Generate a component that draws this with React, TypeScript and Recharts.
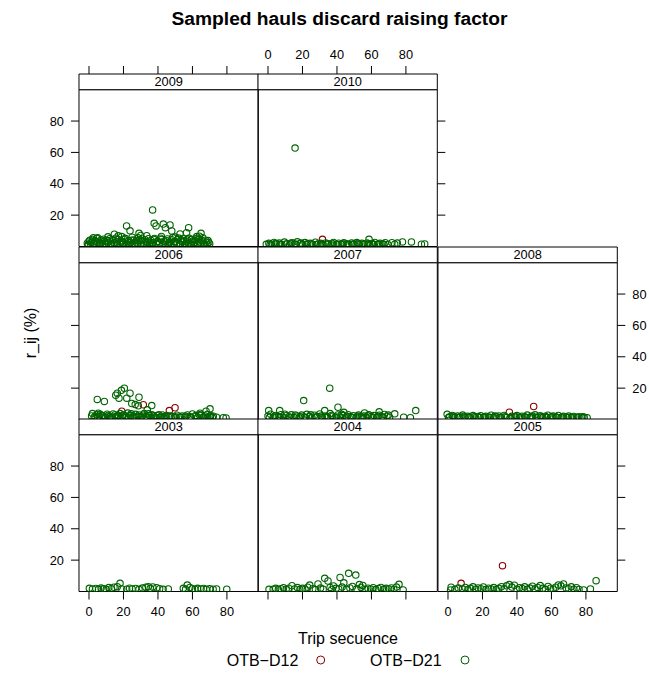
import React from 'react';
import { ScatterChart, Scatter, XAxis, YAxis, ReferenceArea } from 'recharts';

type Pt = [number, number];

// Trip sequence (x) and r_ij % (y), per year and metier
const d12_2009: Pt[] = [[-0.5, 0.9]];
const d21_2009: Pt[] = [
  [36.9, 23.3], [37.8, 14.8], [38.9, 13.1], [43.1, 14.3], [44.3, 12], [47, 13.7], [48, 9.9],
  [57.8, 12], [56.6, 8.8], [65, 8.4], [21.8, 13.1], [23.8, 10], [14.7, 7.8], [29, 8.4],
  [33.5, 6.9], [2.5, 5.6], [19, 6.3], [52.8, 8], [62.5, 6.3],
  [5, 5.5], [11, 6.2], [17, 6.8], [25, 5.9], [30, 7.0], [42, 6.4], [50, 6.0], [58, 5.3], [64, 6.6],
  [-1, 2.1], [0, 3.4], [1, 1.5], [2, 4.6], [3, 2.2], [4, 1.1], [5, 3.0], [6, 2.4], [7, 4.1], [8, 1.8],
  [9, 3.3], [10, 1.2], [11, 2.7], [12, 5.0], [13, 2.0], [14, 3.6], [15, 1.4], [16, 2.9], [17, 4.4],
  [18, 1.9], [19, 3.1], [20, 2.3], [21, 5.2], [22, 1.6], [23, 3.8], [24, 2.5], [25, 1.3], [26, 4.2],
  [27, 2.8], [28, 1.7], [29, 3.5], [30, 2.1], [31, 4.8], [32, 1.5], [33, 3.0], [34, 2.6], [35, 1.2],
  [36, 3.9], [37, 2.4], [38, 5.1], [39, 1.8], [40, 3.3], [41, 2.2], [42, 4.5], [43, 1.4], [44, 2.9],
  [45, 3.7], [46, 1.6], [47, 2.5], [48, 4.3], [49, 1.9], [50, 3.2], [51, 2.0], [52, 5.4], [53, 1.3],
  [54, 2.8], [55, 3.6], [56, 1.7], [57, 4.1], [58, 2.3], [59, 1.5], [60, 3.4], [61, 2.6], [62, 4.9],
  [63, 1.8], [64, 3.0], [65, 2.2], [66, 5.6], [67, 1.4], [68, 2.7], [69, 3.8], [70, 1.6],
  [-0.5, 1.2], [0.5, 4.0], [1.5, 2.8], [2.5, 1.9], [3.5, 3.6], [4.5, 5.1], [6.5, 1.4], [7.5, 2.9],
  [8.5, 4.7], [9.5, 2.0], [10.5, 3.8], [12.5, 1.6], [13.5, 4.4], [14.5, 2.4], [15.5, 5.3], [16.5, 1.2],
  [18.5, 3.7], [19.5, 1.5], [20.5, 4.5], [22.5, 2.9], [23.5, 1.2], [24.5, 4.0], [26.5, 1.8], [27.5, 3.9],
  [28.5, 5.5], [30.5, 3.6], [31.5, 1.3], [32.5, 4.3], [33.5, 1.9], [34.5, 5.0], [35.5, 2.7], [36.5, 1.4],
  [37.5, 4.6], [39.5, 3.0], [40.5, 1.5], [41.5, 5.3], [43.5, 3.4], [44.5, 1.2], [45.5, 4.8], [46.5, 2.9],
  [47.5, 1.4], [48.5, 5.7], [49.5, 3.0], [51.5, 4.4], [52.5, 1.6], [53.5, 3.5], [54.5, 5.0], [55.5, 1.3],
  [56.5, 3.0], [57.5, 1.8], [59.5, 4.6], [60.5, 1.3], [61.5, 3.8], [63.5, 4.4], [64.5, 1.5], [65.5, 3.5],
  [66.5, 2.1], [67.5, 4.0], [68.5, 1.3], [69.5, 2.6],
];

const d12_2010: Pt[] = [[31.6, 4.6]];
const d21_2010: Pt[] = [
  [15.7, 62.8], [58.6, 4.6], [71.9, 2.4], [78, 2.9], [83.2, 2.9], [75, 2.2], [90.9, 1.6], [89, 1.5],
  [-1, 1.4], [0.5, 2.0], [2, 1.2], [3.5, 2.6], [5, 1.7], [6.5, 2.2], [8, 1.3], [9.5, 2.8], [11, 1.8],
  [12.5, 1.1], [14, 2.4], [15.5, 1.6], [17, 3.0], [18.5, 1.9], [20, 1.2], [21.5, 2.5], [23, 1.7],
  [24.5, 2.1], [26, 1.3], [27.5, 2.7], [29, 1.6], [30.5, 2.0], [32, 1.2], [33.5, 2.3], [35, 1.8],
  [36.5, 1.1], [38, 2.6], [39.5, 1.5], [41, 2.1], [42.5, 1.3], [44, 2.4], [45.5, 1.7], [47, 1.2],
  [48.5, 2.2], [50, 1.6], [51.5, 2.5], [53, 1.3], [54.5, 2.0], [56, 1.5], [57.5, 2.3], [59, 1.2],
  [60.5, 1.9], [62, 2.6], [63.5, 1.4], [65, 2.1], [66.5, 1.7], [68, 2.4], [69.5, 1.3],
  [1.2, 1.1], [4.2, 1.9], [7.2, 1.2], [10.2, 1.5], [13.2, 2.0], [16.2, 1.3], [19.2, 2.2], [22.2, 1.2],
  [25.2, 1.8], [28.2, 1.2], [31.2, 1.7], [34.2, 1.3], [37.2, 1.9], [40.2, 1.2], [43.2, 1.8], [46.2, 1.4],
  [49.2, 1.2], [52.2, 1.9], [55.2, 1.3], [58.2, 1.7], [61.2, 1.2], [64.2, 1.6], [67.2, 1.2], [73.5, 1.5],
];

const d12_2006: Pt[] = [[31.5, 9.4], [49.9, 7.5], [46.6, 5.7], [19, 5.3]];
const d21_2006: Pt[] = [
  [4.8, 12.8], [8.9, 11.5], [16.4, 16.8], [20.5, 20], [23.8, 16.8], [17.4, 13.6], [21.9, 13.6],
  [29, 14.2], [24.8, 10.2], [28.6, 8.7], [36.4, 8.9], [70.2, 6.8], [67.9, 5.3], [64.4, 4.0],
  [72.1, 2.1], [77.9, 1.1], [5.4, 4.0], [15.5, 15.5], [18.8, 18.6], [26.8, 9.5], [33.8, 6.2],
  [1.5, 2.3], [3, 1.2], [4.5, 3.1], [6, 1.8], [7.5, 2.6], [9, 1.1], [10.5, 3.4], [12, 2.0],
  [13.5, 1.4], [15, 2.9], [16.5, 1.7], [18, 3.8], [19.5, 2.2], [21, 1.3], [22.5, 4.1], [24, 2.5],
  [25.5, 1.6], [27, 3.3], [28.5, 2.0], [30, 1.2], [31.5, 2.8], [33, 1.9], [34.5, 3.6], [36, 1.4],
  [37.5, 2.4], [39, 1.1], [40.5, 3.0], [42, 1.8], [43.5, 1.3], [45, 2.6], [46.5, 1.5], [48, 2.1],
  [49.5, 1.2], [51, 2.7], [52.5, 1.6], [54, 2.2], [55.5, 1.3], [57, 2.9], [58.5, 1.7], [60, 3.5],
  [61.5, 2.0], [63, 1.4], [65, 2.8], [66.5, 1.6], [68.5, 3.2], [70, 1.9], [71.5, 1.2], [74, 1.5],
  [79.5, 1.0],
  [2, 3.8], [3.5, 2.0], [5, 1.4], [6.5, 3.3], [8, 2.1], [9.5, 1.6], [11, 2.6], [12.5, 1.2], [14, 3.5],
  [15.5, 1.9], [17, 2.6], [18.5, 1.4], [20, 3.0], [21.5, 2.3], [23, 1.5], [24.5, 3.6], [26, 2.1],
  [27.5, 1.3], [29, 2.9], [30.5, 1.7], [32, 3.9], [33.5, 1.3], [35, 2.5], [36.5, 3.1], [38, 1.6],
  [39.5, 2.4], [41, 1.3], [42.5, 2.9], [44, 1.9], [47, 2.3], [50, 1.8], [53, 1.3], [56, 2.0],
  [59, 1.4], [62, 2.6], [64, 3.0], [66, 1.2], [67.5, 2.3], [69, 1.4], [70.5, 2.6],
];

const d12_2007: Pt[] = [];
const d21_2007: Pt[] = [
  [35.8, 20], [20.7, 12.1], [40.6, 7.8], [85.7, 5.7], [73.5, 3.6], [78.7, 1.5], [82.6, 1.1],
  [6.8, 5.7], [0.4, 5.7], [32.9, 5.7], [44, 4.6], [56, 4.2], [64.5, 4.9],
  [0, 2.2], [1.5, 3.4], [3, 1.3], [4.5, 2.6], [6, 1.7], [7.5, 3.1], [9, 1.2], [10.5, 2.4], [12, 1.8],
  [13.5, 3.0], [15, 1.4], [16.5, 2.2], [18, 1.1], [19.5, 2.8], [21, 1.6], [22.5, 3.3], [24, 2.0],
  [25.5, 1.3], [27, 2.7], [28.5, 1.9], [30, 3.5], [31.5, 1.4], [33, 2.3], [34.5, 1.7], [36, 3.8],
  [37.5, 2.1], [39, 1.2], [40.5, 2.9], [42, 1.6], [43.5, 2.5], [45, 1.3], [46.5, 3.1], [48, 1.8],
  [49.5, 2.4], [51, 1.2], [52.5, 2.8], [54, 1.7], [55.5, 2.2], [57, 1.4], [58.5, 3.0], [60, 1.9],
  [61.5, 2.5], [63, 1.3], [64.5, 2.7], [66, 1.8], [67.5, 3.2], [69, 2.1], [70.5, 1.5],
  [0.8, 1.3], [3.8, 2.0], [6.8, 1.2], [9.8, 3.4], [12.8, 1.3], [15.8, 2.9], [18.8, 1.7], [21.8, 1.2],
  [24.8, 3.0], [27.8, 1.4], [30.8, 2.2], [33.8, 1.2], [36.8, 2.6], [39.8, 1.6], [42.8, 3.3], [45.8, 2.0],
  [48.8, 1.2], [51.8, 2.0], [54.8, 1.3], [57.8, 2.4], [60.8, 1.2], [63.8, 2.0], [66.8, 1.4], [69.8, 2.8],
];

const d12_2008: Pt[] = [[49.7, 8.3], [35.6, 4.7]];
const d21_2008: Pt[] = [
  [-0.5, 3.3], [1, 1.8], [2.5, 2.6], [4, 1.3], [5.5, 2.2], [7, 1.6], [8.5, 2.8], [10, 1.2],
  [11.5, 2.0], [13, 1.5], [14.5, 2.5], [16, 1.1], [17.5, 1.9], [19, 2.4], [20.5, 1.4], [22, 2.1],
  [23.5, 1.6], [25, 2.7], [26.5, 1.2], [28, 1.9], [29.5, 2.3], [31, 1.5], [32.5, 2.6], [34, 1.3],
  [37, 2.0], [38.5, 1.6], [40, 2.5], [41.5, 1.2], [43, 2.1], [44.5, 1.7], [46, 2.8], [47.5, 1.4],
  [49, 2.2], [50.5, 3.0], [52, 1.6], [53.5, 2.4], [55, 1.2], [56.5, 2.0], [58, 2.7], [59.5, 1.5],
  [61, 2.3], [62.5, 1.8], [64, 2.6], [65.5, 1.3], [67, 2.1], [68.5, 1.6], [70, 2.2], [71.5, 1.2],
  [73, 1.9], [74.5, 1.5], [76, 1.7], [77.5, 1.2], [79, 1.4], [80.7, 1.1],
  [0.3, 1.2], [3.2, 2.0], [6.2, 1.2], [9.2, 1.9], [12.2, 1.2], [15.2, 1.8], [18.2, 1.2], [21.2, 1.7],
  [24.2, 1.2], [27.2, 2.2], [30.2, 1.1], [33.2, 1.8], [36.2, 1.2], [39.2, 1.9], [42.2, 1.5], [45.2, 1.2],
  [48.2, 1.7], [51.2, 1.2], [54.2, 1.8], [57.2, 1.2], [60.2, 1.7], [63.2, 1.2], [66.2, 1.8], [69.2, 1.2],
  [72.2, 1.6], [75.2, 1.1], [78.2, 1.7],
];

const d12_2003: Pt[] = [];
const d21_2003: Pt[] = [
  [18, 5.2], [16.4, 3.1], [0.2, 2], [34.4, 3.1], [39.3, 2.4], [57, 4.1], [79.9, 1.5],
  [2, 1.6], [4, 1.9], [5.5, 1.4], [7, 2.2], [8.5, 1.7], [10, 1.3], [11.5, 2.5], [13, 1.8],
  [14.5, 2.7], [19, 1.6], [21.9, 1.5], [23.5, 2.1], [25, 1.6], [27, 1.9], [29, 1.4], [31, 2.2],
  [33, 2.7], [35.5, 2.0], [37, 2.9], [41, 1.8], [43, 1.4], [46, 1.6], [54.7, 2.0], [56, 1.4],
  [58.5, 2.6], [60, 1.8], [61.5, 1.5], [63, 2.0], [65, 1.6], [66.5, 1.9], [68, 1.4], [70, 1.7],
  [72, 1.5], [74, 1.6],
];

const d12_2004: Pt[] = [];
const d21_2004: Pt[] = [
  [46.8, 11.6], [50.9, 10.5], [41.8, 9], [32.9, 8.4], [34.8, 6.7], [29, 4.8], [24.2, 4.1],
  [13.9, 3.7], [76, 4.6], [0.6, 1.4], [78.4, 1], [44, 5.5], [53, 4.4], [55, 3.9], [38, 3.5],
  [3, 1.5], [4.5, 2.0], [6, 1.2], [7.5, 1.8], [9, 2.4], [10.5, 1.4], [12, 2.1], [15.5, 1.6],
  [17, 2.5], [18.5, 1.3], [20, 2.0], [21.5, 1.5], [23, 2.7], [26, 1.8], [27.5, 1.2], [30.5, 2.2],
  [32, 1.5], [36, 2.6], [37, 1.3], [39.5, 2.0], [41, 1.6], [43, 2.8], [45.5, 1.4], [47.5, 2.3],
  [49, 3.2], [51.5, 1.7], [54, 2.6], [56.5, 1.3], [58, 2.1], [59.5, 1.6], [61, 2.4], [62.5, 1.2],
  [64, 1.9], [65.5, 2.6], [67, 1.4], [68.5, 2.0], [70, 1.6], [71.5, 2.3], [73, 1.3], [74.5, 2.8],
];

const d12_2005: Pt[] = [[31.6, 16.5], [7.6, 5.2]];
const d21_2005: Pt[] = [
  [85.9, 6.9], [82.6, 1.6], [78.7, 1.0], [1.8, 2.7], [1.5, 1.0],
  [4, 1.4], [6, 2.2], [8.5, 1.6], [10, 2.6], [11.5, 1.2], [13, 2.0], [14.5, 3.0], [16, 1.5],
  [17.5, 2.3], [19, 1.8], [20.5, 2.9], [22, 1.3], [23.5, 2.1], [25, 1.6], [26.5, 2.5], [28, 1.2],
  [29.5, 2.0], [31, 3.1], [32.5, 1.7], [34, 3.6], [35.5, 4.4], [37, 2.8], [38.5, 4.0], [40, 1.5],
  [41.5, 2.4], [43, 1.9], [44.5, 3.0], [46, 1.4], [47.5, 2.2], [49, 3.4], [50.5, 1.7], [52, 2.6],
  [53.5, 3.8], [55, 2.0], [56.5, 1.4], [58, 3.2], [59.5, 2.1], [61, 1.6], [62.5, 2.7], [64, 4.2],
  [65.5, 3.6], [67, 4.8], [68.5, 2.3], [70, 1.8], [71.5, 3.0], [73, 1.5], [74.5, 2.4], [76, 1.3],
];

const xTicks = [0, 20, 40, 60, 80];
const yTicks = [20, 40, 60, 80];
const metiers = ['OTB\u2212D12', 'OTB\u2212D21'];

const RED = '#8B0000';
const GREEN = '#006400';
const FONT = '"Liberation Sans", Arial, Helvetica, sans-serif';

const XMIN = -5.8;
const XMAX = 98.2;
const YTOP = 110.01; // panel is 0..100, strip sits on top
const COL_X = [79, 258.3, 437.6];
const ROW_Y = [74, 246.5, 419];
const PANEL_W = 179.3;
const ROW_H = 172.5;
const SIDE = 40;
const TB = 30;

type AxisMode = 'none' | 'ticks' | 'labels';

interface PanelDef {
  year: string;
  col: number;
  row: number;
  red: Pt[];
  green: Pt[];
  top: AxisMode;
  bottom: AxisMode;
  left: AxisMode;
  right: AxisMode;
}

const panels: PanelDef[] = [
  { year: '2009', col: 0, row: 0, red: d12_2009, green: d21_2009, top: 'ticks', bottom: 'none', left: 'labels', right: 'none' },
  { year: '2010', col: 1, row: 0, red: d12_2010, green: d21_2010, top: 'labels', bottom: 'none', left: 'none', right: 'ticks' },
  { year: '2006', col: 0, row: 1, red: d12_2006, green: d21_2006, top: 'none', bottom: 'none', left: 'ticks', right: 'none' },
  { year: '2007', col: 1, row: 1, red: d12_2007, green: d21_2007, top: 'none', bottom: 'none', left: 'none', right: 'none' },
  { year: '2008', col: 2, row: 1, red: d12_2008, green: d21_2008, top: 'none', bottom: 'none', left: 'none', right: 'labels' },
  { year: '2003', col: 0, row: 2, red: d12_2003, green: d21_2003, top: 'none', bottom: 'labels', left: 'labels', right: 'none' },
  { year: '2004', col: 1, row: 2, red: d12_2004, green: d21_2004, top: 'none', bottom: 'ticks', left: 'none', right: 'none' },
  { year: '2005', col: 2, row: 2, red: d12_2005, green: d21_2005, top: 'none', bottom: 'labels', left: 'none', right: 'ticks' },
];

const toObj = (pts: Pt[]) => pts.map(([x, y]) => ({ x, y }));

const ring = (color: string) => (props: any) =>
  <circle cx={props.cx} cy={props.cy} r={3.2} fill="none" stroke={color} strokeWidth={1.1} />;

// props shared by every axis, depending on what the side should show
const axisProps = (mode: AxisMode) => {
  if (mode === 'none') return { tick: false, tickLine: false, axisLine: false };
  return {
    tick: { fontSize: 12.8, fill: '#000', fontFamily: FONT },
    tickLine: { stroke: '#000' },
    axisLine: false,
    tickSize: 8,
    tickMargin: 7,
    tickFormatter: mode === 'ticks' ? () => '' : (v: number) => String(v),
  };
};

const Panel: React.FC<{ p: PanelDef }> = ({ p }) => (
  <div style={{ position: 'absolute', left: COL_X[p.col] - SIDE, top: ROW_Y[p.row] - TB }}>
    <ScatterChart
      width={PANEL_W + 2 * SIDE}
      height={ROW_H + 2 * TB}
      margin={{ top: 0, right: 0, bottom: 0, left: 0 }}
    >
      <XAxis xAxisId="b" orientation="bottom" type="number" dataKey="x" domain={[XMIN, XMAX]}
        allowDataOverflow ticks={xTicks} height={TB} interval={0} {...axisProps(p.bottom)} />
      <XAxis xAxisId="t" orientation="top" type="number" dataKey="x" domain={[XMIN, XMAX]}
        allowDataOverflow ticks={xTicks} height={TB} interval={0} {...axisProps(p.top)} />
      <YAxis yAxisId="l" orientation="left" type="number" dataKey="y" domain={[0, YTOP]}
        allowDataOverflow ticks={yTicks} width={SIDE} interval={0} {...axisProps(p.left)} />
      <YAxis yAxisId="r" orientation="right" type="number" dataKey="y" domain={[0, YTOP]}
        allowDataOverflow ticks={yTicks} width={SIDE} interval={0} {...axisProps(p.right)} />
      <ReferenceArea xAxisId="b" yAxisId="l" x1={XMIN} x2={XMAX} y1={0} y2={100}
        fill="none" fillOpacity={0} stroke="#000" strokeWidth={1} ifOverflow="visible" />
      <ReferenceArea xAxisId="b" yAxisId="l" x1={XMIN} x2={XMAX} y1={100} y2={YTOP}
        fill="#fff" fillOpacity={1} stroke="#000" strokeWidth={1} ifOverflow="visible"
        label={{ value: p.year, position: 'center', fontSize: 12.8, fill: '#000', fontFamily: FONT }} />
      <Scatter name={metiers[0]} xAxisId="b" yAxisId="l" data={toObj(p.red)}
        shape={ring(RED)} isAnimationActive={false} />
      <Scatter name={metiers[1]} xAxisId="b" yAxisId="l" data={toObj(p.green)}
        shape={ring(GREEN)} isAnimationActive={false} />
    </ScatterChart>
  </div>
);

export default function App() {
  return (
    <div style={{ position: 'absolute', left: 0, top: 0, width: 649, height: 673, overflow: 'hidden', background: '#fff', fontFamily: FONT }}>
      <svg width={649} height={673} style={{ position: 'absolute', left: 0, top: 0 }}>
        <text x={339.5} y={25} textAnchor="middle" fontSize={19.2} fontWeight="bold" fontFamily={FONT}>
          Sampled hauls discard raising factor
        </text>
        <text x={36} y={333} textAnchor="middle" fontSize={16} fontFamily={FONT} transform="rotate(-90 36 333)">
          r_ij (%)
        </text>
        <text x={348} y={644} textAnchor="middle" fontSize={16} fontFamily={FONT}>
          Trip secuence
        </text>
        <text x={226.7} y={665.5} textAnchor="start" fontSize={16} fontFamily={FONT}>{metiers[0]}</text>
        <circle cx={320.7} cy={660} r={4} fill="none" stroke={RED} strokeWidth={1} />
        <text x={370} y={665.5} textAnchor="start" fontSize={16} fontFamily={FONT}>{metiers[1]}</text>
        <circle cx={465} cy={660} r={4} fill="none" stroke={GREEN} strokeWidth={1} />
      </svg>
      {panels.map((p) => <Panel key={p.year} p={p} />)}
    </div>
  );
}
